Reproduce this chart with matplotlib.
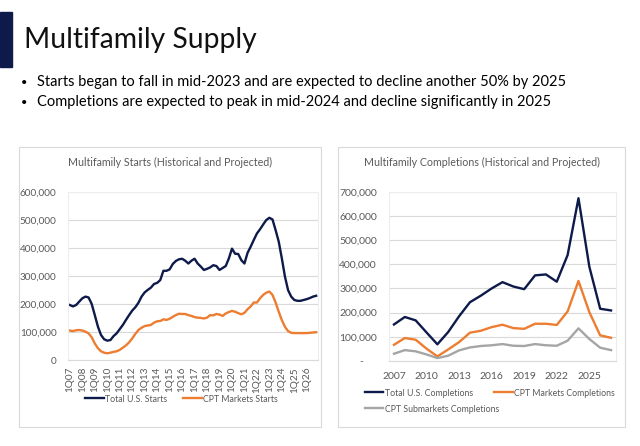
import matplotlib
matplotlib.use("Agg")
import matplotlib.pyplot as plt
from matplotlib.patches import Rectangle
from matplotlib.ticker import FuncFormatter

plt.rcParams['font.family'] = ['Lato', 'DejaVu Sans']

# ---------------- data ----------------
quarters = [f"{q}Q{y:02d}" for y in range(7, 27) for q in range(1, 5)]

total_us_starts = [
    196, 191, 196, 208, 220, 226, 223, 200, 160, 119, 89, 74, 69, 71, 85, 95,
    110, 125, 143, 160, 176, 188, 204, 226, 241, 250, 258, 271, 275, 285, 318, 318,
    323, 342, 353, 359, 361, 354, 344, 354, 361, 344, 333, 321, 325, 330, 338, 335,
    321, 328, 335, 362, 397, 379, 378, 356, 344, 382, 404, 428, 451, 466, 483, 499,
    507, 501, 463, 422, 362, 297, 249, 226, 214, 211, 211, 214, 217, 221, 226, 229,
]
total_us_starts = [v * 1000 for v in total_us_starts]

cpt_markets_starts = [
    105, 103, 106, 107, 105, 101, 95, 81, 59, 42, 31, 26, 24, 26, 29, 31,
    36, 44, 52, 63, 77, 93, 107, 115, 121, 123, 125, 133, 138, 139, 145, 143,
    147, 154, 160, 165, 164, 164, 160, 157, 153, 151, 150, 148, 151, 160, 159, 164,
    162, 157, 166, 171, 175, 172, 167, 163, 168, 181, 191, 205, 205, 220, 232, 240,
    244, 232, 205, 172, 142, 118, 103, 97, 96, 96, 96, 96, 96, 97, 98, 99,
]
cpt_markets_starts = [v * 1000 for v in cpt_markets_starts]

years = list(range(2007, 2028))
total_us_completions = [
    151, 182, 168, 118, 69, 120, 185, 243, 270, 300, 326, 308, 297,
    354, 358, 328, 438, 673, 390, 216, 209,
]
total_us_completions = [v * 1000 for v in total_us_completions]

cpt_markets_completions = [
    67, 95, 88, 51, 19, 48, 78, 117, 125, 140, 150, 136, 133,
    154, 154, 149, 205, 331, 202, 106, 96,
]
cpt_markets_completions = [v * 1000 for v in cpt_markets_completions]

cpt_submarkets_completions = [
    30, 45, 40, 27, 12, 22, 44, 56, 62, 65, 70, 63, 62,
    70, 65, 63, 84, 135, 91, 55, 45,
]
cpt_submarkets_completions = [v * 1000 for v in cpt_submarkets_completions]

# ---------------- style ----------------
NAVY = "#0D1A4A"
ORANGE = "#ED7D31"
GREY = "#A5A5A5"
TXT = "#595959"
GRID = "#D9D9D9"

W, H = 640, 446
fig = plt.figure(figsize=(W / 100, H / 100), dpi=100)
fig.patch.set_facecolor("white")


def fx(px):
    return px / W


def fy(py):
    return 1 - py / H


def ax_rect(x0, y0, x1, y1):
    return [fx(x0), fy(y1), fx(x1) - fx(x0), fy(y0) - fy(y1)]


# Title bar and title
fig.patches.append(Rectangle((0, fy(67)), fx(12), fy(12) - fy(67),
                             transform=fig.transFigure, color=NAVY, zorder=-5))
fig.text(fx(24), fy(40), "Multifamily Supply", fontsize=20.3, color="#111111",
         va="center", ha="left", fontweight="normal")

bullets = [
    "Starts began to fall in mid-2023 and are expected to decline another 50% by 2025",
    "Completions are expected to peak in mid-2024 and decline significantly in 2025",
]
for i, b in enumerate(bullets):
    yy = 82 + i * 20
    fig.text(fx(21), fy(yy), "•", fontsize=8, va="center", ha="left")
    fig.text(fx(37), fy(yy), b, fontsize=10.5, va="center", ha="left", color="black")

# Panel boxes
for (x0, y0, x1, y1) in [(19, 147, 321, 427), (337.5, 147, 625, 427)]:
    fig.patches.append(Rectangle((fx(x0), fy(y1)), fx(x1) - fx(x0), fy(y0) - fy(y1),
                                 transform=fig.transFigure, facecolor="white",
                                 edgecolor="#D9D9D9", linewidth=0.8, zorder=-5))

fmt_thousands = FuncFormatter(lambda v, p: f"{int(v):,}")


def style_axes(ax):
    ax.spines["bottom"].set_color(GRID)
    for s in ["top", "right", "left"]:
        ax.spines[s].set_color("#EDEDED")
    ax.grid(axis="y", color=GRID, linewidth=0.8)
    ax.set_axisbelow(True)
    ax.tick_params(axis="both", length=0, colors=TXT)
    ax.patch.set_alpha(0)


TICK_FS = 7.2
LEG_FS = 6.3

# ---------------- left chart ----------------
ax1 = fig.add_axes(ax_rect(68.3, 191.7, 317.7, 360))
style_axes(ax1)
x1 = list(range(len(quarters)))
ax1.plot(x1, total_us_starts, color=NAVY, lw=1.7, label="Total U.S. Starts",
         solid_joinstyle="round")
ax1.plot(x1, cpt_markets_starts, color=ORANGE, lw=1.7, label="CPT Markets Starts",
         solid_joinstyle="round")
ax1.set_xlim(-0.5, len(quarters) - 0.5)
ax1.set_ylim(0, 600000)
ax1.set_yticks(range(0, 600001, 100000))
ax1.yaxis.set_major_formatter(fmt_thousands)
ax1.set_xticks(x1[::4])
ax1.set_xticklabels(quarters[::4], rotation=90)
ax1.tick_params(axis="y", pad=8.5, labelsize=TICK_FS)
ax1.tick_params(axis="x", pad=5, labelsize=TICK_FS)
fig.text(fx(170), fy(162), "Multifamily Starts (Historical and Projected)",
         fontsize=7.7, color=TXT, ha="center", va="center")
ax1.legend(loc="center", bbox_to_anchor=(fx(181.5), fy(399)),
           bbox_transform=fig.transFigure, ncol=2, frameon=False,
           fontsize=LEG_FS, labelcolor=TXT, handlelength=2.2, handletextpad=0.1,
           columnspacing=1.8)

# ---------------- right chart ----------------
ax2 = fig.add_axes(ax_rect(389.3, 191.7, 615.7, 361))
style_axes(ax2)
x2 = list(range(len(years)))
ax2.plot(x2, total_us_completions, color=NAVY, lw=1.7, label="Total U.S. Completions")
ax2.plot(x2, cpt_markets_completions, color=ORANGE, lw=1.7, label="CPT Markets Completions")
ax2.plot(x2, cpt_submarkets_completions, color=GREY, lw=1.7,
         label="CPT Submarkets Completions")
ax2.set_xlim(-0.43, len(years) - 0.57)
ax2.set_ylim(0, 700000)
ax2.set_yticks(range(0, 700001, 100000))
ax2.yaxis.set_major_formatter(FuncFormatter(
    lambda v, p: "-     " if v == 0 else f"{int(v):,}"))
ax2.set_xticks(x2[::3])
ax2.set_xticklabels([str(y) for y in years[::3]])
ax2.tick_params(axis="y", pad=9, labelsize=TICK_FS + 0.3)
ax2.tick_params(axis="x", pad=8, labelsize=TICK_FS + 0.3)
fig.text(fx(481.7), fy(162), "Multifamily Completions (Historical and Projected)",
         fontsize=7.7, color=TXT, ha="center", va="center")
h, l = ax2.get_legend_handles_labels()
fig.legend(h[:2], l[:2], loc="center left", bbox_to_anchor=(fx(357), fy(393)),
           bbox_transform=fig.transFigure, ncol=2, frameon=False,
           fontsize=LEG_FS, labelcolor=TXT, handlelength=2.1, handletextpad=0.2,
           columnspacing=2.4)
fig.legend(h[2:], l[2:], loc="center left", bbox_to_anchor=(fx(357), fy(409)),
           bbox_transform=fig.transFigure, ncol=1, frameon=False,
           fontsize=LEG_FS, labelcolor=TXT, handlelength=2.1, handletextpad=0.2)

fig.savefig("out.png", dpi=100, facecolor="white")
